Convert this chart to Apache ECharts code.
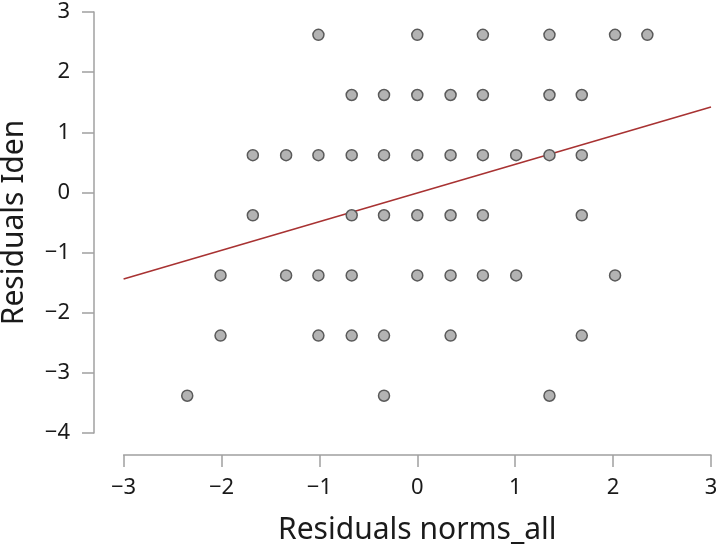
<!DOCTYPE html>
<html>
<head>
<meta charset="utf-8">
<script src="https://cdn.jsdelivr.net/npm/echarts@6/dist/echarts.min.js"></script>
<style>html,body{margin:0;padding:0;background:#fff;}#c{width:716px;height:546px;}</style>
</head>
<body>
<div id="c"></div>
<script>
// Residual rows (y values) and the x values of points on each row
const rowY = [2.62, 1.62, 0.62, -0.38, -1.38, -2.38, -3.38];
const rowX = [
  [-1.01, 0, 0.67, 1.35, 2.02, 2.35],
  [-0.67, -0.34, 0, 0.34, 0.67, 1.35, 1.68],
  [-1.68, -1.34, -1.01, -0.67, -0.34, 0, 0.34, 0.67, 1.01, 1.35, 1.68],
  [-1.68, -0.67, -0.34, 0, 0.34, 0.67, 1.68],
  [-2.01, -1.34, -1.01, -0.67, 0, 0.34, 0.67, 1.01, 2.02],
  [-2.01, -1.01, -0.67, -0.34, 0.34, 1.68],
  [-2.35, -0.34, 1.35]
];
const fitX = [-3, 3];
const fitY = [-1.44, 1.42];
const xTicks = [-3, -2, -1, 0, 1, 2, 3];
const yTicks = [-4, -3, -2, -1, 0, 1, 2, 3];

const points = [];
rowY.forEach((y, i) => rowX[i].forEach(x => points.push([x, y])));
const fitLine = fitX.map((x, i) => [x, fitY[i]]);

const fmt = v => String(v).replace('-', '\u2212');
const FONT = 'Noto Sans';

const chart = echarts.init(document.getElementById('c'));
chart.setOption({
  animation: false,
  grid: { left: 123.6, right: 5, top: 12, bottom: 113, containLabel: false, outerBoundsMode: 'none' },
  xAxis: {
    type: 'value', min: xTicks[0], max: xTicks[xTicks.length - 1], interval: 1,
    offset: 22,
    name: 'Residuals norms_all', nameLocation: 'middle', nameGap: 60,
    nameTextStyle: { fontFamily: FONT, fontSize: 30, color: '#1a1a1a' },
    axisLine: { show: true, onZero: false, lineStyle: { color: '#a0a0a0', width: 1.5 } },
    axisTick: { show: true, inside: false, length: 12, lineStyle: { color: '#a0a0a0', width: 1.5 } },
    axisLabel: { formatter: fmt, fontFamily: FONT, fontSize: 22, color: '#1a1a1a', margin: 22 },
    splitLine: { show: false }
  },
  yAxis: {
    type: 'value', min: yTicks[0], max: yTicks[yTicks.length - 1], interval: 1,
    offset: 29.6,
    name: 'Residuals Iden', nameLocation: 'middle', nameGap: 65,
    nameTextStyle: { fontFamily: FONT, fontSize: 30, color: '#1a1a1a' },
    axisLine: { show: true, onZero: false, lineStyle: { color: '#a0a0a0', width: 1.5 } },
    axisTick: { show: true, inside: false, length: 12, lineStyle: { color: '#a0a0a0', width: 1.5 } },
    axisLabel: { formatter: fmt, fontFamily: FONT, fontSize: 22, color: '#1a1a1a', margin: 24 },
    splitLine: { show: false }
  },
  series: [
    {
      type: 'line', data: fitLine, symbol: 'none', silent: true,
      lineStyle: { color: '#a83232', width: 1.6 }, z: 1
    },
    {
      type: 'scatter', data: points, symbol: 'circle', symbolSize: 11,
      itemStyle: { color: '#b3b3b3', borderColor: '#5a5a5a', borderWidth: 1.5, opacity: 1 }, z: 2
    }
  ]
});
</script>
</body>
</html>
